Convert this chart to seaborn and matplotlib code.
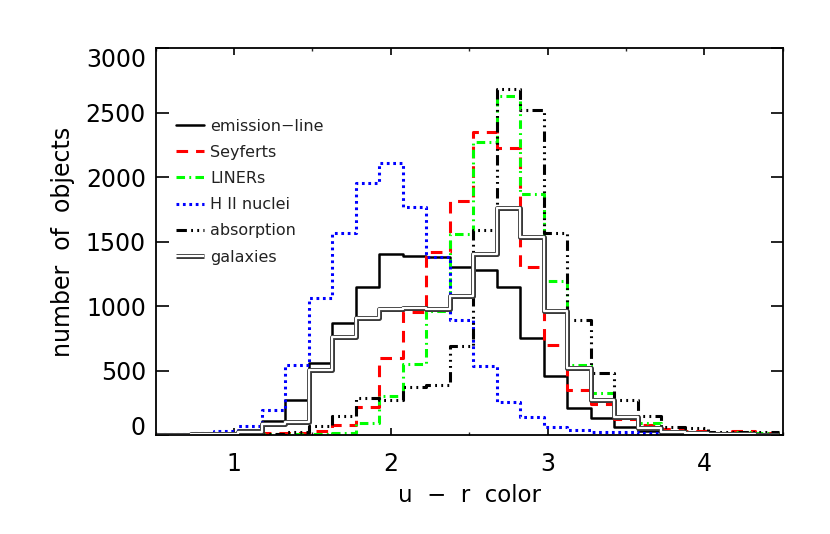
import numpy as np
import pandas as pd
import matplotlib
matplotlib.use("Agg")
import matplotlib.pyplot as plt
import matplotlib.patheffects as pe
from matplotlib.ticker import MultipleLocator
import seaborn as sns

# ---- data ----
bin_centers = [0.50, 0.65, 0.80, 0.95, 1.10, 1.25, 1.40, 1.55, 1.70, 1.85,
               2.00, 2.15, 2.30, 2.45, 2.60, 2.75, 2.90, 3.05, 3.20, 3.35,
               3.50, 3.65, 3.80, 3.95, 4.10, 4.25, 4.40]
bin_width = 0.15

emission_line = [2, 3, 5, 15, 39, 105, 271, 561, 866, 1150, 1401, 1390, 1383, 1306,
                 1280, 1150, 750, 458, 207, 130, 60, 31, 20, 15, 10, 6, 3]
seyferts = [1, 2, 3, 5, 8, 12, 15, 31, 80, 220, 595, 957, 1422, 1815,
            2353, 2228, 1300, 698, 349, 240, 122, 78, 44, 31, 15, 33, 15]
liners = [1, 2, 3, 3, 5, 5, 8, 10, 18, 95, 302, 551, 964, 1559,
          2275, 2632, 1867, 1194, 540, 323, 142, 90, 31, 25, 15, 20, 15]
hii_nuclei = [5, 8, 18, 31, 72, 197, 543, 1060, 1569, 1957, 2112, 1765, 1380, 890,
              535, 259, 137, 65, 39, 25, 20, 15, 10, 7, 5, 3, 2]
absorption = [1, 2, 3, 5, 8, 10, 20, 72, 147, 290, 275, 375, 388, 690,
              1590, 2684, 2521, 1564, 892, 483, 271, 147, 65, 52, 25, 25, 20]
galaxies = [2, 3, 5, 10, 25, 85, 100, 504, 763, 905, 975, 988, 980, 1078,
            1404, 1763, 1533, 964, 517, 271, 142, 52, 25, 15, 10, 5, 3]

labels = ["emission\u2212line", "Seyferts", "LINERs", "H II nuclei", "absorption", "galaxies"]
x_ticks = [1, 2, 3, 4]
y_ticks = [0, 500, 1000, 1500, 2000, 2500, 3000]

series = [emission_line, seyferts, liners, hii_nuclei, absorption, galaxies]
frames = []
for lab, vals in zip(labels, series):
    frames.append(pd.DataFrame({"color": bin_centers, "count": vals, "sample": lab}))
df = pd.concat(frames, ignore_index=True)
edges = [c - bin_width / 2 for c in bin_centers] + [bin_centers[-1] + bin_width / 2]

# ---- styles ----
styles = {
    "emission\u2212line": dict(color="black", linewidth=1.8, linestyle="-"),
    "Seyferts": dict(color="#ff0000", linewidth=2.2, linestyle=(0, (3.8, 2.6))),
    "LINERs": dict(color="#00ff00", linewidth=2.2, linestyle=(0, (2.8, 1.4, 0.6, 1.4))),
    "H II nuclei": dict(color="#0000ff", linewidth=2.2, linestyle=(0, (0.9, 1.2))),
    "absorption": dict(color="black", linewidth=2.2,
                       linestyle=(0, (3.4, 1.4, 0.6, 1.4, 0.6, 1.4, 0.6, 1.4))),
    "galaxies": dict(color="white", linewidth=1.6, linestyle="-", solid_capstyle="butt",
                     path_effects=[pe.Stroke(linewidth=3.6, foreground="#3a3a3a"), pe.Normal()]),
}

sns.set_theme(style="white")
plt.rcParams["font.family"] = ["DejaVu Sans"]

fig = plt.figure(figsize=(8.30, 5.34), dpi=100)
ax = fig.add_axes([0.1876, 0.1854, 0.7554, 0.7242])

handles = []
for lab in labels:
    sub = df[df["sample"] == lab]
    n0 = len(ax.lines)
    sns.histplot(data=sub, x="color", weights="count", bins=edges,
                 element="step", fill=False, ax=ax, **styles[lab])
    line = ax.lines[n0]
    line.set_label(lab)
    handles.append(line)

ax.set_xlim(0.5, 4.5)
ax.set_ylim(0, 3000)
ax.set_xticks(x_ticks)
ax.set_xticklabels([str(t) for t in x_ticks])
ax.xaxis.set_minor_locator(MultipleLocator(0.5))
ax.set_yticks(y_ticks)
ax.set_yticklabels([str(t) for t in y_ticks])

for s in ax.spines.values():
    s.set_visible(True)
    s.set_color("black")
    s.set_linewidth(1.3)

ax.tick_params(axis="x", which="major", direction="in", length=5, width=1.2,
               top=True, bottom=True, labelsize=17, pad=12, colors="black")
ax.tick_params(axis="x", which="minor", direction="in", length=2.5, width=1.0,
               top=True, bottom=True)
ax.tick_params(axis="y", which="major", direction="in", length=9, width=1.2,
               left=True, right=True, labelsize=17, pad=7, colors="black")

ylabels = ax.get_yticklabels()
ylabels[-1].set_verticalalignment("top")
ylabels[0].set_verticalalignment("baseline")

ax.set_xlabel("u  \u2212  r  color", fontsize=16.5, labelpad=6, color="black")
ax.set_ylabel("number  of  objects", fontsize=17, labelpad=8, color="black")

leg = ax.legend(handles=handles, loc="upper left", bbox_to_anchor=(0.032, 0.818),
                frameon=False, fontsize=11.5, handlelength=1.75, handletextpad=0.4,
                labelspacing=0.70, borderpad=0, borderaxespad=0)
for t in leg.get_texts():
    t.set_color("#222222")

fig.savefig("out.png", dpi=100, facecolor="white")
